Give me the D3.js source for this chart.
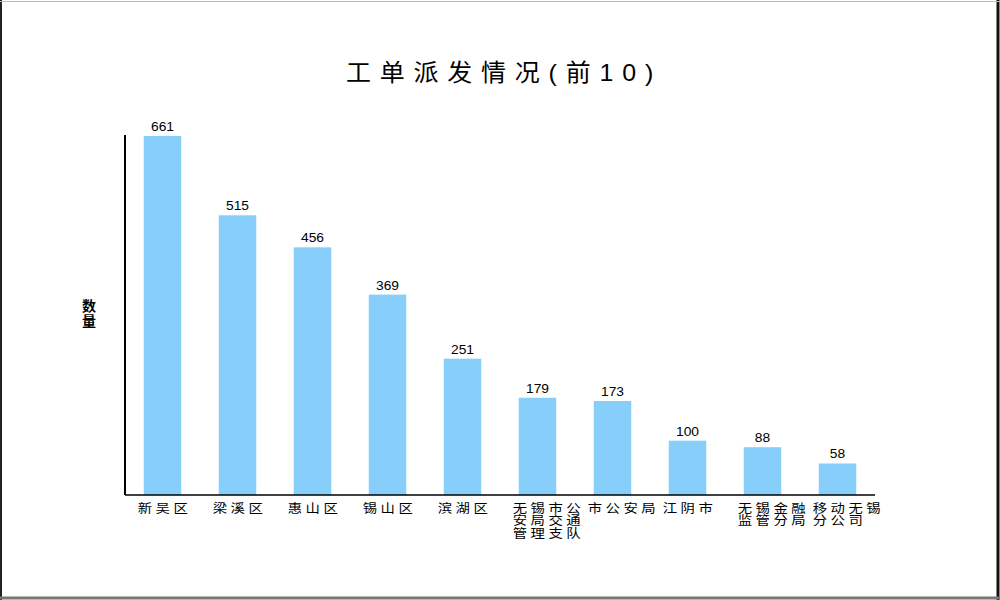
<!DOCTYPE html>
<html>
<head>
<meta charset="utf-8">
<script src="https://cdn.jsdelivr.net/npm/d3@7"></script>
<style>
  html, body { margin: 0; padding: 0; background: #fff; }
  text { font-family: "Liberation Sans", "Noto Sans CJK SC", sans-serif; }
</style>
</head>
<body>
<div id="chart"></div>
<script>
// data
var categories = ["新吴区", "梁溪区", "惠山区", "锡山区", "滨湖区",
                  "无锡市公安局交通管理支队", "市公安局", "江阴市", "无锡金融监管分局", "移动无锡分公司"];
var counts = [661, 515, 456, 369, 251, 179, 173, 100, 88, 58];
var title = "工单派发情况(前10)";
var yTitle = ["数", "量"];

function init() {
  var w = 1000, h = 600;
  var left = 125, right = 875, top = 136, bottom = 495;
  var stretch = 1.15; // text in the picture is a bit wide

  var svg = d3.select("#chart").append("svg")
      .attr("width", w).attr("height", h);

  // frame
  svg.append("line").attr("x1", 1).attr("x2", 1).attr("y1", 0).attr("y2", h)
      .attr("stroke", "#222").attr("stroke-width", 2);
  svg.append("line").attr("x1", w - 2).attr("x2", w - 2).attr("y1", 0).attr("y2", h)
      .attr("stroke", "#111").attr("stroke-width", 3);
  svg.append("line").attr("x1", 0).attr("x2", w).attr("y1", 1.5).attr("y2", 1.5)
      .attr("stroke", "#bbb").attr("stroke-width", 1);
  svg.append("line").attr("x1", 0).attr("x2", w).attr("y1", h - 2).attr("y2", h - 2)
      .attr("stroke", "#777").attr("stroke-width", 3);

  var xScale = d3.scaleBand()
      .domain(d3.range(categories.length))
      .range([left, right])
      .paddingInner(0.5)
      .paddingOuter(0.25);

  var yScale = d3.scaleLinear()
      .domain([0, d3.max(counts)])
      .range([bottom, top]);

  // title
  svg.append("text")
      .attr("transform", "translate(504,81) scale(1.04,1)")
      .attr("text-anchor", "middle")
      .attr("font-family", "'Noto Sans CJK SC', sans-serif")
      .attr("font-size", 24)
      .attr("letter-spacing", 8.5)
      .attr("fill", "#000")
      .text(title);

  // y title, vertical
  svg.selectAll(".ytitle")
      .data(yTitle)
      .enter().append("text")
      .attr("x", 89)
      .attr("y", function(d, i) { return 311 + i * 15; })
      .attr("text-anchor", "middle")
      .attr("font-family", "'Noto Sans CJK SC', sans-serif")
      .attr("font-size", 14)
      .attr("font-weight", "bold")
      .text(function(d) { return d; });

  // bars
  svg.selectAll("rect.bar")
      .data(counts)
      .enter().append("rect")
      .attr("class", "bar")
      .attr("x", function(d, i) { return xScale(i); })
      .attr("y", function(d) { return yScale(d); })
      .attr("width", xScale.bandwidth())
      .attr("height", function(d) { return bottom - yScale(d); })
      .attr("fill", "#87cefa");

  // value labels
  svg.selectAll("text.val")
      .data(counts)
      .enter().append("text")
      .attr("class", "val")
      .attr("transform", function(d, i) {
        return "translate(" + (xScale(i) + xScale.bandwidth() / 2) + "," + (yScale(d) - 5) + ") scale(" + stretch + ",1)";
      })
      .attr("text-anchor", "middle")
      .attr("font-size", 12)
      .text(function(d) { return d; });

  // axes (plain lines, no ticks)
  svg.append("line")
      .attr("x1", left).attr("x2", left)
      .attr("y1", top - 1).attr("y2", bottom)
      .attr("stroke", "#000").attr("stroke-width", 2);
  svg.append("line")
      .attr("x1", left).attr("x2", right)
      .attr("y1", bottom).attr("y2", bottom)
      .attr("stroke", "#000").attr("stroke-width", 1.5);

  // category labels, wrapped 4 chars per line
  var cat = svg.selectAll("text.cat")
      .data(categories)
      .enter().append("text")
      .attr("class", "cat")
      .attr("transform", function(d, i) {
        return "translate(" + (xScale(i) - 6) + ",513) scale(" + stretch + ",1)";
      })
      .attr("font-family", "'Noto Sans CJK SC', sans-serif")
      .attr("font-size", 12.5)
      .attr("letter-spacing", 3);

  cat.each(function(d) {
    var el = d3.select(this);
    var lines = [];
    for (var k = 0; k < d.length; k += 4) lines.push(d.slice(k, k + 4));
    lines.forEach(function(s, j) {
      el.append("tspan")
        .attr("x", 0)
        .attr("dy", j === 0 ? 0 : 12.5)
        .text(s);
    });
  });
}

window.onload = init;
</script>
</body>
</html>
